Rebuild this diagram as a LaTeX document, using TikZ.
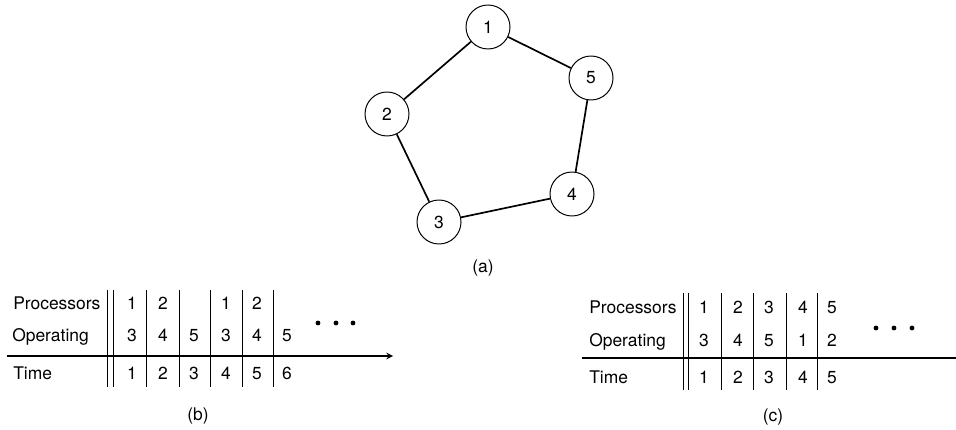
\documentclass[tikz,border=0pt]{standalone}
\usepackage{fontspec}
\setmainfont{TeX Gyre Heros}
\usetikzlibrary{arrows,positioning}

\begin{document}
\begin{tikzpicture}[
    font=\fontsize{12.4}{15}\selectfont,
    proc/.style={draw=black, circle, minimum size=1.1cm, inner sep=0pt, line width=0.7pt},
    link/.style={line width=1.2pt},
    rule/.style={line width=0.7pt},
    timeline/.style={line width=1.1pt},
    rowname/.style={anchor=west, inner sep=0pt, text height=8.9pt, text depth=0pt},
    cell/.style={inner sep=0pt, text height=8.9pt, text depth=0pt}
]
\useasboundingbox (0,0) rectangle (23.9,-10.75);

% (a) five processors on a ring
\node[proc] (p1) at (12.2,-0.675) {1};
\node[proc] (p2) at (9.675,-2.85) {2};
\node[proc] (p3) at (10.975,-5.55) {3};
\node[proc] (p4) at (14.3,-4.85) {4};
\node[proc] (p5) at (14.775,-1.95) {5};

\draw[link] (p1) -- (p2);
\draw[link] (p2) -- (p3);
\draw[link] (p3) -- (p4);
\draw[link] (p4) -- (p5);
\draw[link] (p5) -- (p1);

\node (capa) at (12.075,-6.7) {(a)};

% (b) schedule with a period of five steps
\node[rowname] (bproc) at (0.325,-7.575) {Processors};
\node[rowname] (boper) at (0.3,-8.375) {Operating};
\node[rowname] (btime) at (0.325,-9.325) {Time};

\coordinate (bstart) at (0.175,-8.9);
\coordinate (bend) at (9.825,-8.9);
\draw[timeline, ->, >=stealth] (bstart) -- (bend);

\foreach \x in {2.675,2.825,3.65,4.475,5.25,6.05,6.825}
    \draw[rule] (\x,-7.25) -- (\x,-9.675);

\foreach \x/\p/\o/\t [count=\i] in {3.3/1/3/1, 4.075/2/4/2, 4.85//5/3,
                                    5.65/1/3/4, 6.425/2/4/5, 7.175//5/6} {
    \node[cell] (bp\i) at (\x,-7.575) {\p};
    \node[cell] (bo\i) at (\x,-8.375) {\o};
    \node[cell] (bt\i) at (\x,-9.325) {\t};
}

\foreach \x in {7.95,8.4,8.825}
    \fill (\x,-8.075) circle (0.06);

\node (capb) at (4.95,-10.4) {(b)};

% (c) schedule with every processor used once
\node[rowname] (cproc) at (14.725,-7.675) {Processors};
\node[rowname] (coper) at (14.725,-8.5) {Operating};
\node[rowname] (ctime) at (14.725,-9.425) {Time};

\coordinate (cstart) at (14.55,-8.95);
\coordinate (cend) at (23.9,-8.95);
\draw[timeline] (cstart) -- (cend);

\foreach \x in {17.075,17.2,18.025,18.825,19.65,20.425}
    \draw[rule] (\x,-7.325) -- (\x,-9.75);

\foreach \x/\p/\o/\t [count=\i] in {17.6/1/3/1, 18.45/2/4/2, 19.225/3/5/3,
                                    20.075/4/1/4, 20.8/5/2/5} {
    \node[cell] (cp\i) at (\x,-7.675) {\p};
    \node[cell] (co\i) at (\x,-8.5) {\o};
    \node[cell] (ct\i) at (\x,-9.425) {\t};
}

\foreach \x in {21.9,22.35,22.8}
    \fill (\x,-8.2) circle (0.06);

\node (capc) at (19.325,-10.425) {(c)};

\end{tikzpicture}
\end{document}
